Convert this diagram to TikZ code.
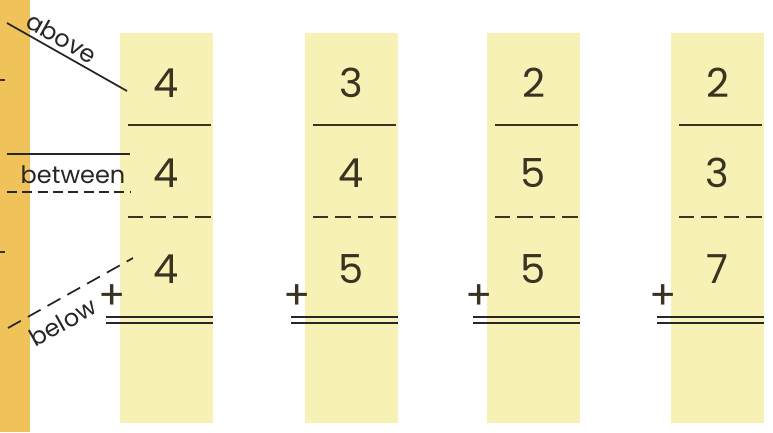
\documentclass[tikz,border=0pt]{standalone}
\usepackage{fontspec}
\setmainfont{Poppins}
\definecolor{strip}{HTML}{F0C35A}
\definecolor{paper}{HTML}{F8F1B6}
\definecolor{ink}{HTML}{3A3322}
\begin{document}
\begin{tikzpicture}[x=0.75pt,y=-0.75pt,
  digit/.style={text=ink,font=\fontsize{30}{30}\selectfont,inner sep=0pt},
  tag/.style={text=black!85,font=\fontsize{18}{18}\selectfont,inner sep=0pt},
  rule/.style={line width=2.1pt,ink},
  dashrule/.style={line width=2.1pt,ink,dash pattern=on 11.5pt off 5.3pt},
  thinrule/.style={line width=1.3pt,black!85}]
\useasboundingbox (0,0) rectangle (773,432);
% side strip
\fill[strip] (0,0) rectangle (30,432);
\draw[line width=2pt,ink] (0,80) -- (5,80);
\draw[line width=2pt,ink] (0,252) -- (5,252);
% columns
\foreach \x/\a/\b/\c [count=\i] in {120/4/4/4,305/3/4/5,487/2/5/5,671/2/3/7}{
  \fill[paper] (\x,33) rectangle ++(93,390);
  \node[digit] (above\i) at (\x+46.5,83) {\a};
  \node[digit] (between\i) at (\x+46.5,173) {\b};
  \node[digit] (below\i) at (\x+46.5,269) {\c};
  \node[digit] (plus\i) at (\x-8,297) {+};
  \draw[rule] (\x+8,125) -- (\x+91,125);
  \draw[dashrule] (\x+8,217) -- (\x+91,217);
  \draw[thinrule] (\x-14,317) -- (\x+93,317);
  \draw[thinrule] (\x-14,323) -- (\x+93,323);
}
% labels
\coordinate (a1) at (7,23);
\coordinate (a2) at (127,91);
\draw[thinrule] (a1) -- (a2);
\node[tag,rotate=-29.5] (abovetag) at (62,38) {above};
\coordinate (b1) at (7,154);
\coordinate (b2) at (130,154);
\coordinate (b3) at (7,192);
\coordinate (b4) at (130,192);
\draw[thinrule] (b1) -- (b2);
\node[tag] (betweentag) at (73,175) {between};
\draw[thinrule,dash pattern=on 7.5pt off 4pt] (b3) -- (b4);
\coordinate (c1) at (8,328);
\coordinate (c2) at (133,258);
\draw[thinrule,dash pattern=on 11pt off 6pt] (c1) -- (c2);
\node[tag,rotate=29.2] (belowtag) at (63,322) {below};
\end{tikzpicture}
\end{document}
